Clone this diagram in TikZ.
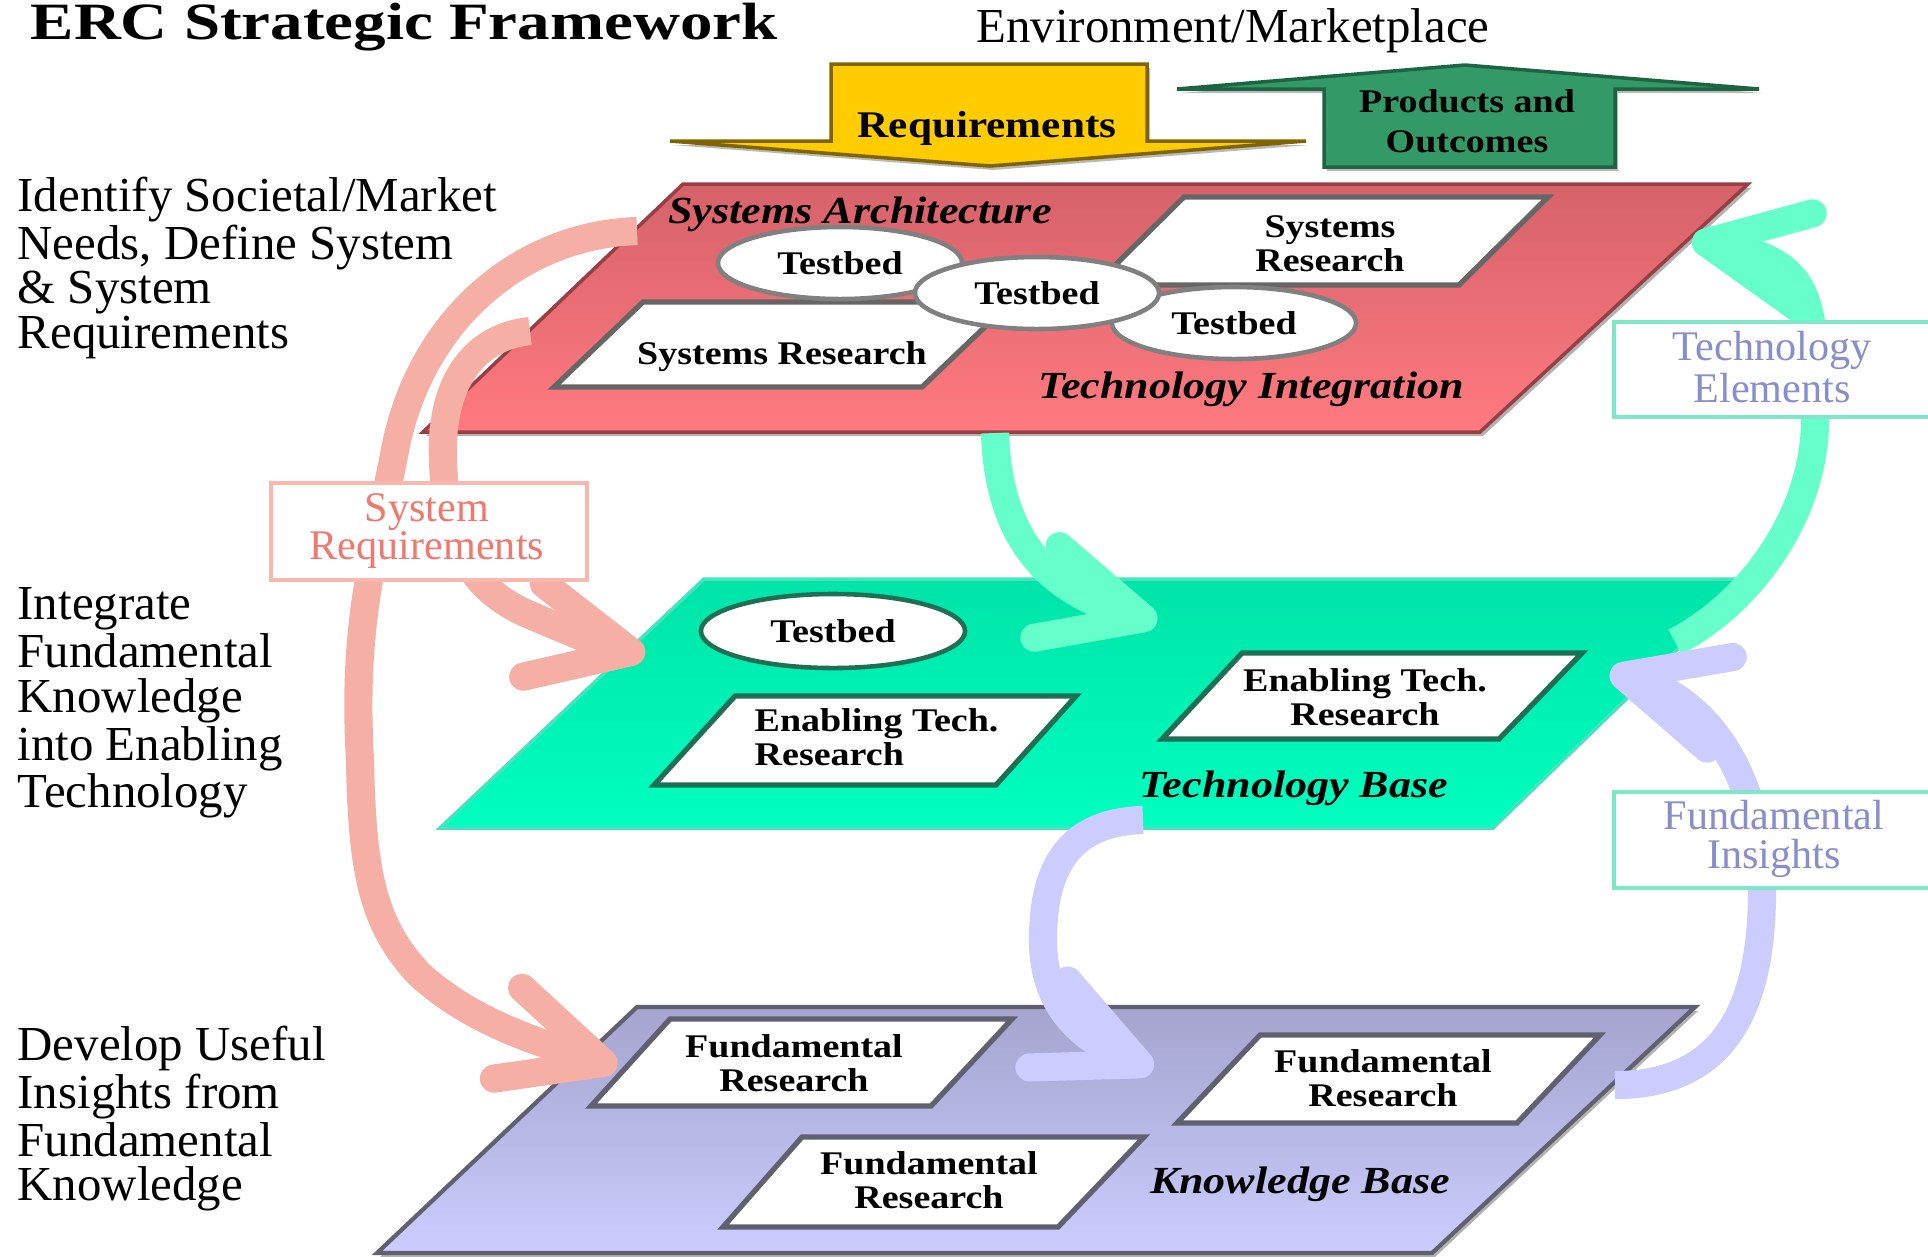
\documentclass[tikz,border=0pt]{standalone}
\usepackage{fontspec}
\setmainfont{Liberation Serif}
\newfontfamily\widefont{Liberation Serif}[FakeStretch=1.15]
\newfontfamily\headfont{Liberation Serif}[FakeStretch=1.24]
\usetikzlibrary{arrows.meta,shapes.geometric}

\definecolor{redtop}{RGB}{214,98,106}
\definecolor{redbot}{RGB}{255,122,128}
\definecolor{rededge}{RGB}{150,64,70}
\definecolor{tealtop}{RGB}{0,228,168}
\definecolor{tealbot}{RGB}{0,255,192}
\definecolor{tealrim}{RGB}{70,228,190}
\definecolor{tealedge}{RGB}{30,112,84}
\definecolor{lavtop}{RGB}{164,164,206}
\definecolor{lavbot}{RGB}{204,204,255}
\definecolor{lavedge}{RGB}{96,96,112}
\definecolor{pinkflow}{RGB}{245,175,165}
\definecolor{tealflow}{RGB}{102,255,204}
\definecolor{lavflow}{RGB}{204,204,255}
\definecolor{reqyellow}{RGB}{255,204,0}
\definecolor{reqedge}{RGB}{128,100,0}
\definecolor{prodgreen}{RGB}{51,153,102}
\definecolor{prodedge}{RGB}{30,100,66}
\definecolor{salmontext}{RGB}{240,120,110}
\definecolor{salmonedge}{RGB}{248,184,176}
\definecolor{bluetext}{RGB}{136,142,204}
\definecolor{aquaedge}{RGB}{128,230,200}

\newcommand{\sidesize}{\fontsize{13.9}{12.6}\selectfont}
\newcommand{\tagsize}{\fontsize{12}{10.9}\selectfont}
\newcommand{\cellsize}{\widefont\bfseries\fontsize{9.4}{9.7}\selectfont}
\newcommand{\slabsize}{\widefont\bfseries\itshape\fontsize{10.9}{12}\selectfont}

\begin{document}
\begin{tikzpicture}[x=0.01cm, y=-0.01cm,
    flow/.style={line width=8pt, draw=#1, -{Straight Barb[length=1cm, width=0.95cm, round]}},
    cell/.style={fill=white, draw=#1, line width=1.5pt, line join=miter},
    testbed/.style={ellipse, draw=#1, fill=white, line width=1.3pt, inner sep=0pt,
      minimum width=2.44cm, minimum height=0.72cm, font=\cellsize},
    celltext/.style={align=center, inner sep=0pt, font=\cellsize},
    slabtext/.style={anchor=base, inner sep=0pt, font=\slabsize},
    tag/.style={draw=#1, fill=white, line width=1.3pt},
    tagtext/.style={align=center, inner sep=0pt, font=\tagsize},
    side/.style={anchor=north west, align=left, inner sep=0pt, font=\sidesize}]
  \useasboundingbox (0,0) rectangle (1928,1256);
  \fill[white] (0,0) rectangle (1928,1256);

  % banner arrows
  \fill[gray!55, shift={(3,4)}] (831,64) -- (1147,64) -- (1147,141) -- (1306,141) -- (990,166) -- (670,141) -- (831,141) -- cycle;
  \filldraw[fill=reqyellow, draw=reqedge, line width=1pt] (831,64) -- (1147,64) -- (1147,141) -- (1306,141) -- (990,166) -- (670,141) -- (831,141) -- cycle;
  \node[anchor=base, inner sep=0pt, font=\widefont\bfseries\fontsize{10.7}{12}\selectfont] (req) at (987,137) {Requirements};

  \fill[gray!55, shift={(3,4)}] (1324,167) -- (1615,167) -- (1615,89) -- (1759,89) -- (1465,65) -- (1177,89) -- (1324,89) -- cycle;
  \filldraw[fill=prodgreen, draw=prodedge, line width=1pt] (1324,167) -- (1615,167) -- (1615,89) -- (1759,89) -- (1465,65) -- (1177,89) -- (1324,89) -- cycle;
  \node[celltext, font=\widefont\bfseries\fontsize{9.4}{11.4}\selectfont] (prod) at (1467,121) {Products and\\Outcomes};

  % the three slabs
  \fill[gray!60, shift={(3,4)}] (683,184) -- (1748,184) -- (1480,432) -- (423,432) -- cycle;
  \draw[top color=redtop, bottom color=redbot, draw=rededge, line width=1pt] (683,184) -- (1748,184) -- (1480,432) -- (423,432) -- cycle;
  \draw[top color=tealtop, bottom color=tealbot, draw=tealrim, line width=1pt] (704,579) -- (1750,579) -- (1493,828) -- (440,828) -- cycle;
  \fill[gray!60, shift={(3,4)}] (637,1007) -- (1695,1007) -- (1432,1253) -- (377,1253) -- cycle;
  \draw[top color=lavtop, bottom color=lavbot, draw=lavedge, line width=1.2pt] (637,1007) -- (1695,1007) -- (1432,1253) -- (377,1253) -- cycle;

  % technology integration slab
  \draw[cell=gray!80!black] (643,302) -- (1011,302) -- (922,387) -- (554,387) -- cycle;
  \draw[cell=gray!80!black] (1184,197) -- (1548,197) -- (1459,285) -- (1095,285) -- cycle;
  \node[testbed=gray] (tb1) at (840,263) {Testbed};
  \node[testbed=gray] (tb3) at (1234,323) {Testbed};
  \node[testbed=gray] (tb2) at (1037,293) {Testbed};
  \node[celltext] (sr1) at (782,357) {Systems Research};
  \node[celltext] (sr2) at (1330,244) {Systems\\Research};
  \node[slabtext] (arch) at (860,223) {Systems Architecture};
  \node[slabtext] (integ) at (1251,398) {Technology Integration};

  % technology base slab
  \node[testbed=tealedge, minimum width=2.64cm, minimum height=0.74cm] (tb4) at (833,631) {Testbed};
  \draw[cell=tealedge] (735,696) -- (1076,696) -- (996,785) -- (654,785) -- cycle;
  \draw[cell=tealedge] (1242,653) -- (1582,653) -- (1499,739) -- (1162,739) -- cycle;
  \node[celltext, align=left, anchor=west] (et1) at (754,737) {Enabling Tech.\\Research};
  \node[celltext] (et2) at (1365,697) {Enabling Tech.\\Research};
  \node[slabtext] (techbase) at (1294,797) {Technology Base};

  % knowledge base slab
  \draw[cell=lavedge] (670,1019) -- (1012,1019) -- (931,1106) -- (591,1106) -- cycle;
  \draw[cell=lavedge] (802,1137) -- (1144,1137) -- (1058,1227) -- (723,1227) -- cycle;
  \draw[cell=lavedge] (1260,1035) -- (1600,1035) -- (1517,1123) -- (1177,1123) -- cycle;
  \node[celltext] (fr1) at (794,1063) {Fundamental\\Research};
  \node[celltext] (fr2) at (929,1180) {Fundamental\\Research};
  \node[celltext] (fr3) at (1383,1078) {Fundamental\\Research};
  \node[slabtext] (knowbase) at (1300,1193) {Knowledge Base};

  % flows between the slabs
  \coordinate (p1s) at (637,231);
  \coordinate (p1e) at (617,1067);
  \coordinate (p2s) at (530,331);
  \coordinate (p2e) at (645,655);
  \coordinate (t1s) at (1675,642);
  \coordinate (t1e) at (1692,240);
  \coordinate (t2s) at (995,433);
  \coordinate (t2e) at (1157,622);
  \coordinate (l1s) at (1143,820);
  \coordinate (l1e) at (1153,1070);
  \coordinate (l2s) at (1615,1085);
  \coordinate (l2e) at (1610,672);
  \draw[flow=pinkflow] (p1s) .. controls (520,235) and (420,320) .. (395,450)
    .. controls (375,555) and (352,620) .. (360,760)
    .. controls (362,870) and (372,925) .. (420,975)
    .. controls (470,1020) and (530,1040) .. (p1e);
  \draw[flow=pinkflow] (p2s) .. controls (465,338) and (440,395) .. (443,460)
    .. controls (445,540) and (470,590) .. (530,615)
    .. controls (570,632) and (600,645) .. (p2e);
  \draw[flow=tealflow] (t1s) .. controls (1755,600) and (1815,510) .. (1815,420)
    .. controls (1815,300) and (1815,262) .. (t1e);
  \draw[flow=tealflow] (t2s) .. controls (998,530) and (1040,590) .. (t2e);
  \draw[flow=lavflow] (l1s) .. controls (1060,822) and (1043,880) .. (1043,940)
    .. controls (1043,1010) and (1085,1040) .. (l1e);
  \draw[flow=lavflow] (l2s) .. controls (1730,1085) and (1762,1000) .. (1762,890)
    .. controls (1762,780) and (1710,700) .. (l2e);

  % tags on the flows
  \draw[tag=salmonedge] (271,483) rectangle (587,580);
  \node[tagtext, text=salmontext] (sysreq) at (427,531) {System\\Requirements};
  \draw[tag=aquaedge] (1614,322) rectangle (1945,417);
  \node[tagtext, text=bluetext] (techel) at (1772,367) {Technology\\Elements};
  \draw[tag=aquaedge] (1614,792) rectangle (1945,888);
  \node[tagtext, text=bluetext] (fundins) at (1774,839) {Fundamental\\Insights};

  % captions
  \node[anchor=base west, inner sep=0pt, font=\headfont\bfseries\fontsize{14.9}{18}\selectfont] (title) at (30,39) {ERC Strategic Framework};
  \node[anchor=base, inner sep=0pt, font=\sidesize] (market) at (1233,42) {Environment/Marketplace};
  \node[side] (needs) at (17,176) {Identify Societal/Market\\Needs, Define System\\\& System\\Requirements};
  \node[side] (integrate) at (17,587) {Integrate\\Fundamental\\Knowledge\\into Enabling\\Technology};
  \node[side] (develop) at (17,1025) {Develop Useful\\Insights from\\Fundamental\\Knowledge};
\end{tikzpicture}
\end{document}
